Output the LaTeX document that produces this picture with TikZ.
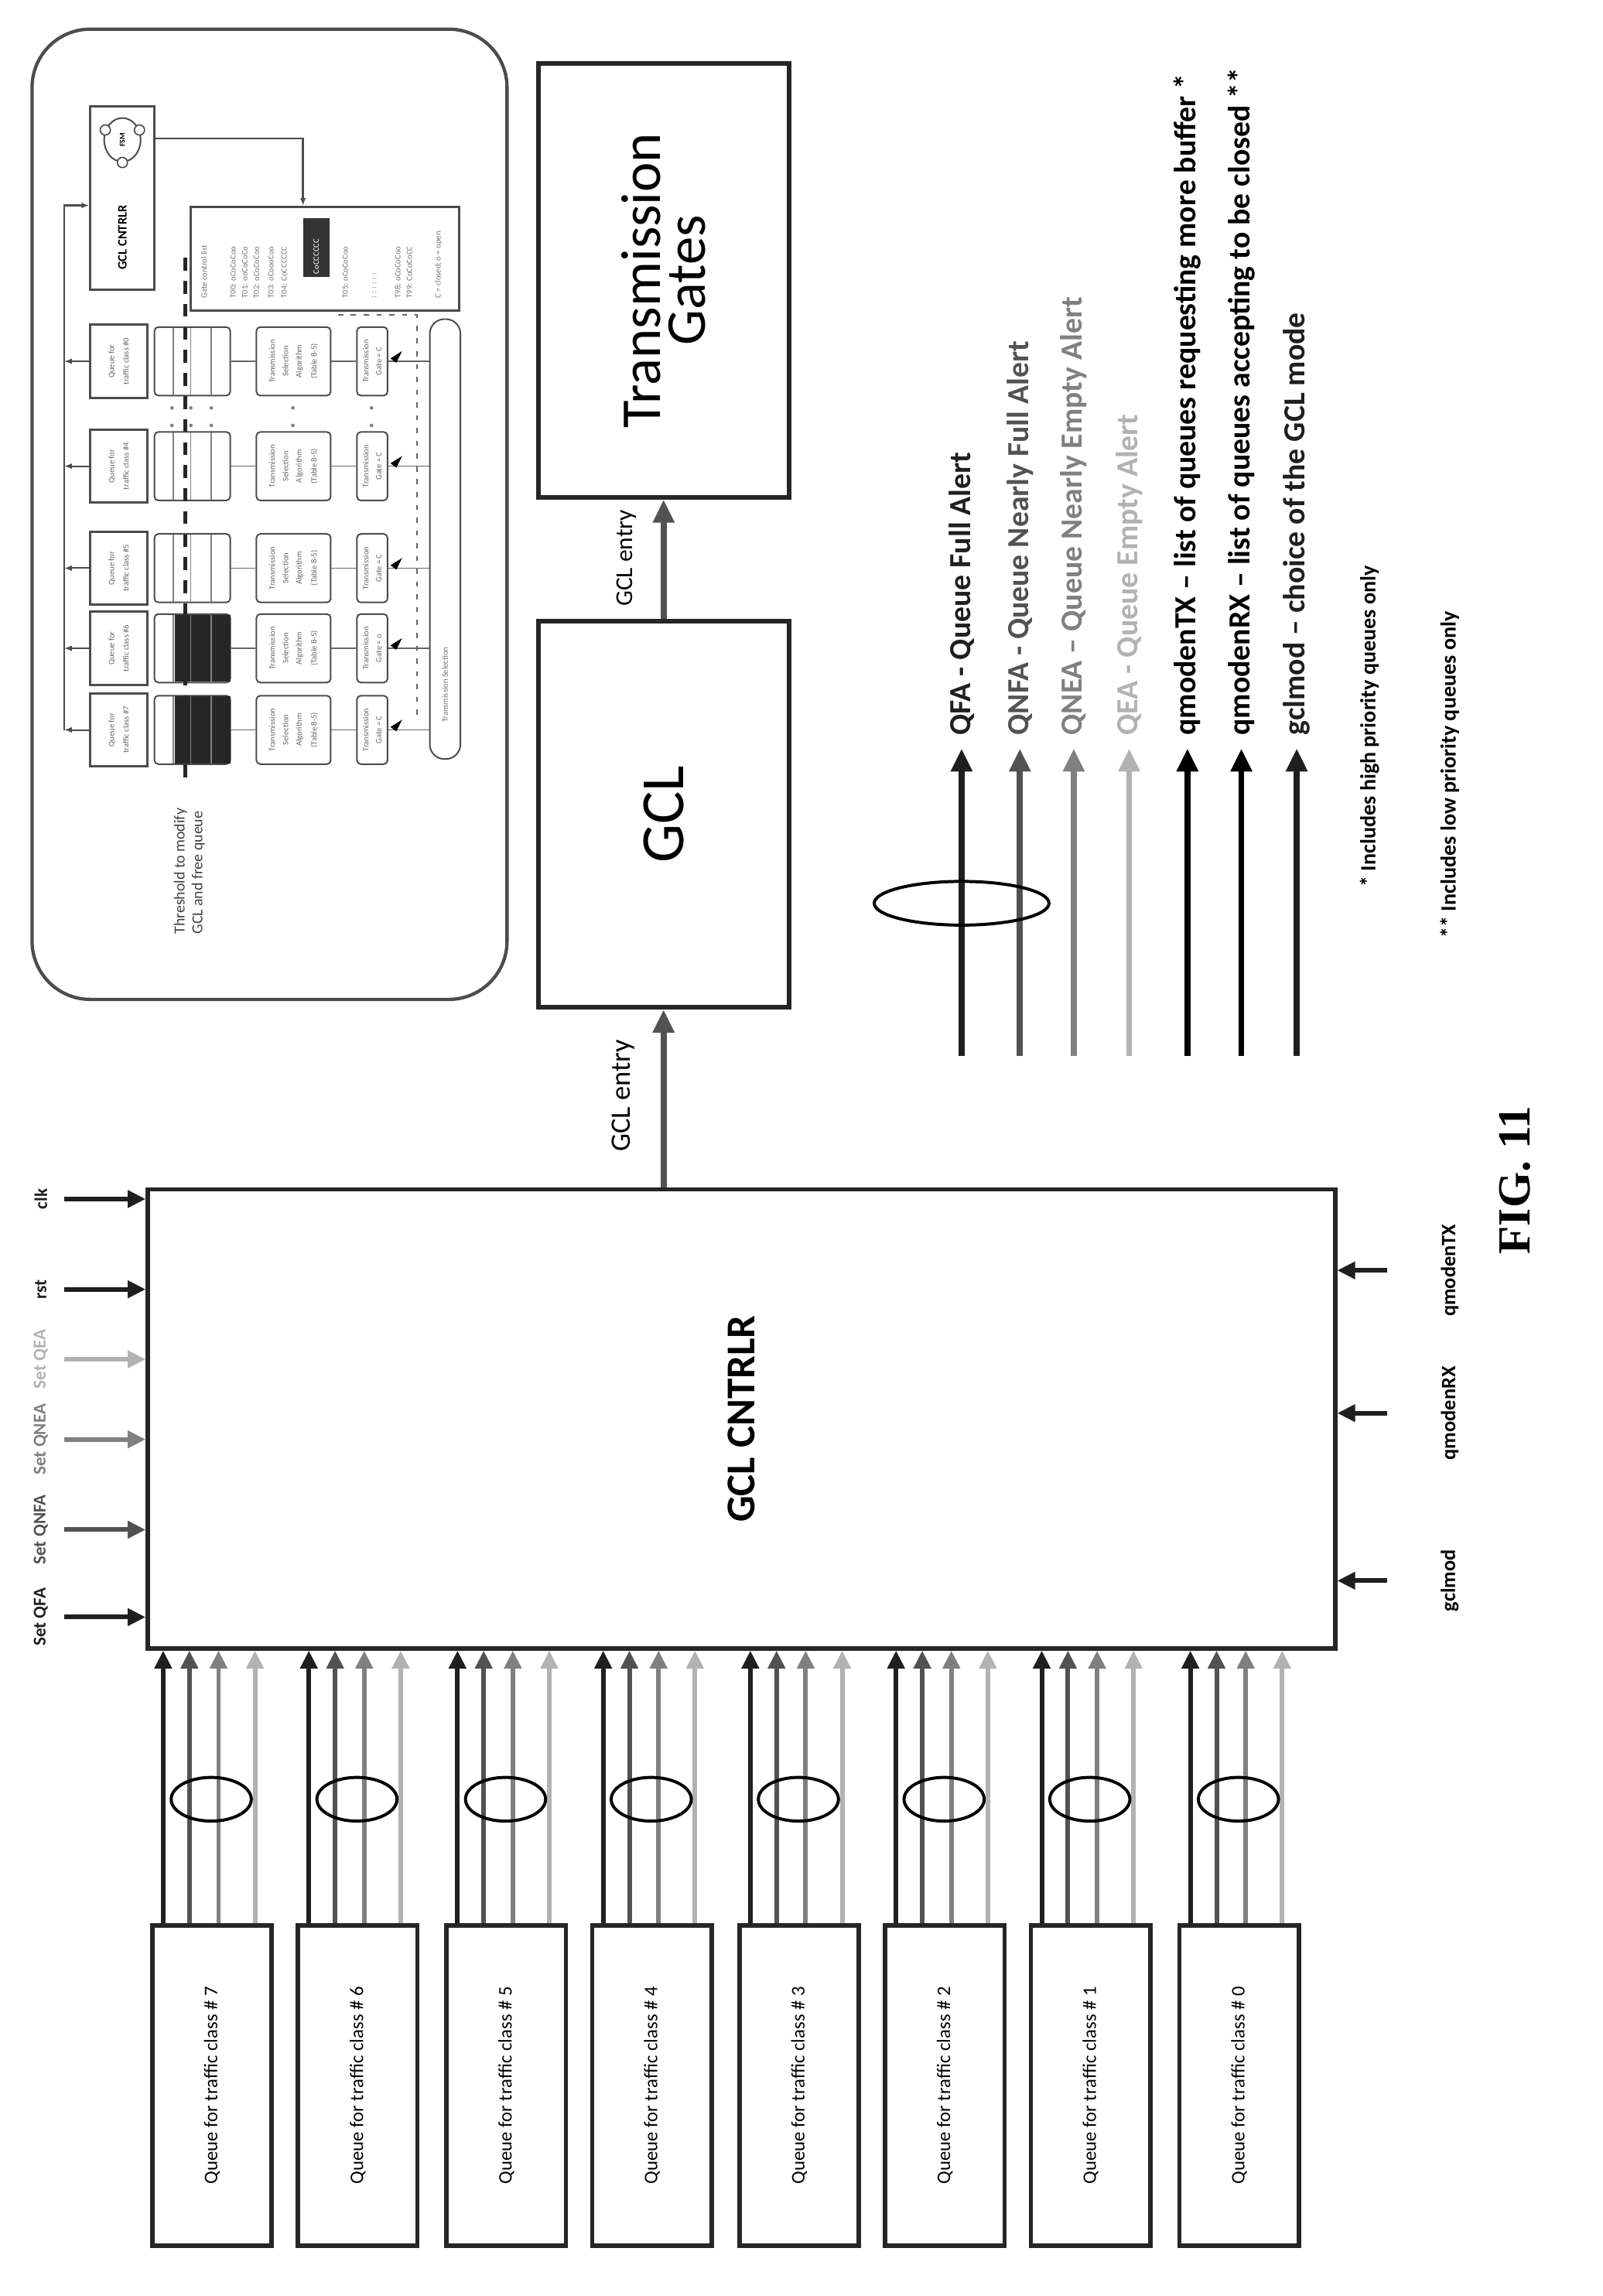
\documentclass[tikz,border=0pt]{standalone}
\usepackage{fontspec}
\setmainfont{Carlito}
\newfontfamily\figfont{Liberation Serif}
\usetikzlibrary{arrows.meta,shapes.geometric}
\definecolor{cA}{gray}{0.12}
\definecolor{cB}{gray}{0.32}
\definecolor{cC}{gray}{0.5}
\definecolor{cD}{gray}{0.7}
\newcommand\tinyt{\fontsize{3.2}{3.6}\selectfont\color{black!60}}
\tikzset{
  bigbox/.style={draw=black!85,line width=1.7pt,inner sep=0pt},
  arr/.style={-{Triangle[length=9pt,width=8pt]},line width=2.3pt},
  sarr/.style={-{Triangle[length=7pt,width=6.5pt]},line width=1.8pt},
  ell/.style={draw,ellipse,line width=1.2pt,inner sep=0pt},
  ibox/.style={draw=black!70,line width=0.6pt,inner sep=0pt},
  tx/.style={font=\fontsize{3.2}{3.6}\selectfont,text=black!55},
  lab/.style={rotate=90,font=\bfseries\fontsize{7}{8}\selectfont},
  leg/.style={rotate=90,anchor=west,font=\bfseries\fontsize{12}{14}\selectfont,inner sep=0pt},
}
\begin{document}
\begin{tikzpicture}[x=0.02cm,y=-0.02cm]
\useasboundingbox (0,0) rectangle (1100,1576);

% ---------------- inset ----------------
\draw[line width=1.3pt,draw=black!70,rounded corners=0.8cm] (22,20) rectangle (348,686);
\node[ibox,line width=0.9pt,minimum width=0.88cm,minimum height=2.52cm] (sbox) at (84,136) {};
\node[ellipse,draw=black!70,line width=0.6pt,minimum width=0.5cm,minimum height=0.6cm,inner sep=0pt] (fsm) at (84,96) {\rotatebox{90}{\fontsize{3}{3}\selectfont\bfseries FSM}};
\foreach \a in {30,150,270}{\draw[fill=white,draw=black!70,line width=0.5pt] (fsm.\a) circle (0.07cm);}
\node[rotate=90,font=\bfseries\fontsize{5}{5}\selectfont] (sboxt) at (84,163) {GCL CNTRLR};
\node[ibox,line width=0.9pt,minimum width=3.68cm,minimum height=1.42cm] (glist) at (223,177.5) {};
\coordinate (sconn) at (208,95);
\draw[black!70,line width=0.8pt,-{Latex[length=3pt]}] (sbox.east |- sconn) -- (sconn) -- (sconn |- glist.north);
\fill[black!80] (208,150) rectangle (226,190);
\foreach \x/\t in {140/Gate control list,160/T00: oCoCoCoo,168/T01: ooCoCoCo,176/T02: oCoCoCoo,186/T03: oCoooCoo,195/T04: CoCCCCCC,237/T05: oCoCoCoo,257/: : : : : :,273/T98: oCoCoCoo,281/T99: CoCoCoCC,301/C = closed; o = open}
  \node[tx,rotate=90,anchor=west,inner sep=0pt] at (\x,205) {\t};
\node[tx,rotate=90,anchor=west,inner sep=0pt,text=white] at (217,200) {T04: CoCCCCCC};
\node[ibox,rounded corners=0.2cm,minimum width=0.42cm,minimum height=6.04cm] (pill) at (305.5,370) {};
\node[tx,rotate=90] at (305.5,470) {Transmission Selection};
\draw[black!60,line width=0.6pt,dash pattern=on 2pt off 3pt] (232,216) -- (286,216) -- (286,495);
\foreach \yc/\lab/\dk/\g in {248/0/0/C,320/4/0/C,390/5/0/C,445/6/1/o,501/7/1/C}{
  \node[ibox,line width=0.9pt,minimum width=0.78cm,minimum height=1cm] (iq\lab) at (81.5,\yc) {\rotatebox{90}{\shortstack{\tinyt Queue for\\\tinyt traffic class \#\lab}}};
  \node[ibox,rounded corners=1.5pt,minimum width=1.04cm,minimum height=0.94cm] (ib\lab) at (132,\yc) {};
  \ifnum\dk=1 \fill[black!85] (120,\yc-23) rectangle (158,\yc+23); \fi
  \foreach \xx in {119,131,145}{\draw[black!50,line width=0.4pt] (\xx,\yc-23) -- (\xx,\yc+23);}
  \node[ibox,rounded corners=1.5pt,minimum width=1.02cm,minimum height=0.94cm] (it\lab) at (201.5,\yc) {\rotatebox{90}{\shortstack{\tinyt Transmission\\\tinyt Selection\\\tinyt Algorithm\\\tinyt (Table 8-5)}}};
  \node[ibox,rounded corners=1.5pt,minimum width=0.42cm,minimum height=0.94cm] (ig\lab) at (255.5,\yc) {\rotatebox{90}{\shortstack{\tinyt Transmission\\\tinyt Gate = \g}}};
  \draw[black!60,line width=0.5pt] (ib\lab.east) -- (it\lab.west);
  \draw[black!60,line width=0.5pt] (it\lab.east) -- (ig\lab.west);
  \draw[black!60,line width=0.5pt] (ig\lab.east) -- (ig\lab.east -| pill.west);
  \fill[black] (268,\yc-2) -- (276,\yc-7) -- (272,\yc+1) -- cycle;
}
\foreach \xx in {118,131,145,201,255}{\fill[black!50] (\xx,280) circle (0.025cm); \fill[black!50] (\xx,292) circle (0.025cm);}
\coordinate (fbtop) at (44,141);
\coordinate (fbbot) at (44,501);
\draw[black!70,line width=0.8pt,-{Latex[length=3pt]}] (fbbot) -- (fbtop) -- (fbtop -| sbox.west);
\foreach \lab in {0,4,5,6,7}{\draw[black!70,line width=0.6pt,-{Latex[length=3pt]}] (iq\lab.west) -- (iq\lab.west -| fbtop);}
\draw[black!85,line width=1.6pt,dash pattern=on 5pt off 4pt] (127,177) -- (127,537);
\node[rotate=90,font=\fontsize{6}{7}\selectfont,text=black!75,align=left] (thr) at (130,598) {Threshold to modify\\GCL and free queue};

% ---------------- main blocks ----------------
\node[bigbox,anchor=north west,minimum width=3.44cm,minimum height=5.96cm] (tg) at (368,42) {\rotatebox{90}{\shortstack{\fontsize{22}{26}\selectfont Transmission\\\fontsize{22}{26}\selectfont Gates}}};
\node[bigbox,anchor=north west,minimum width=3.44cm,minimum height=5.3cm] (gcl) at (368,425) {\rotatebox{90}{\fontsize{24}{26}\selectfont GCL}};
\node[bigbox,anchor=north west,minimum width=16.3cm,minimum height=6.3cm] (ctl) at (100,815) {\rotatebox{90}{\bfseries\fontsize{16}{18}\selectfont GCL CNTRLR}};
\draw[arr,cB] (gcl.south |- ctl.north) -- (gcl.south);
\draw[arr,cB] (gcl.north) -- (tg.south);
\node[rotate=90,font=\fontsize{11}{13}\selectfont] at (428,752) {GCL entry};
\node[rotate=90,font=\fontsize{9.5}{11}\selectfont] at (430,383) {GCL entry};

% queues
\foreach \n/\x in {7/103,6/203,5/305,4/405,3/506,2/606,1/706,0/808}{
  \node[bigbox,anchor=north west,minimum width=1.64cm,minimum height=4.4cm] (q\n) at (\x,1320) {\rotatebox{90}{\fontsize{7.5}{9}\selectfont Queue for traffic class \# \n}};
  \foreach \dx/\c in {9/cA,27/cB,47/cC,72/cD}{
    \draw[sarr,\c] ([xshift=\dx*0.02cm]q\n.north west) -- ([xshift=\dx*0.02cm]q\n.north west |- ctl.south);
  }
  \node[ell,minimum width=1.1cm,minimum height=0.6cm] at ([xshift=0.84cm,yshift=1.7cm]q\n.north west) {};
}

% left inputs
\foreach \i/\y/\c/\t in {1/1110/cA/Set QFA,2/1050/cB/Set QNFA,3/988/cC/Set QNEA,4/933/cD/Set QEA,5/885/cA/rst,6/823/cA/clk}{
  \coordinate (in\i) at (44,\y);
  \draw[sarr,\c] (in\i) -- (in\i -| ctl.west);
  \node[lab,text=\c] at (28,\y) {\t};
}
% right inputs
\foreach \i/\y/\t in {1/1085/gclmod,2/970/qmodenRX,3/872/qmodenTX}{
  \coordinate (rin\i) at (952,\y);
  \draw[sarr,cA] (rin\i) -- (rin\i -| ctl.east);
  \node[lab,font=\bfseries\fontsize{8}{9}\selectfont] at (995,\y) {\t};
}

% legend
\foreach \i/\x/\c/\t in {1/660/cA/QFA - Queue Full Alert,2/700/cB/QNFA - Queue Nearly Full Alert,3/737/cC/QNEA -- Queue Nearly Empty Alert,4/775/cD/QEA - Queue Empty Alert,5/815/black/qmodenTX -- list of queues requesting more buffer *,6/852/black/qmodenRX -- list of queues accepting to be closed **,7/890/cA/gclmod -- choice of the GCL mode}{
  \coordinate (lg\i) at (\x,725);
  \node[leg,text=\c] (lt\i) at (\x,505) {\t};
  \draw[arr,\c,shorten >=5pt] (lg\i) -- (lg\i |- lt\i.west);
}
\node[ell,minimum width=2.4cm,minimum height=0.6cm] at (660,620) {};
\node[rotate=90,anchor=west,font=\bfseries\fontsize{8.5}{10}\selectfont] at (940,615) {* Includes high priority queues only};
\node[rotate=90,anchor=west,font=\bfseries\fontsize{8.5}{10}\selectfont] at (995,650) {** Includes low priority queues only};
\node[rotate=90,font=\figfont\bfseries\fontsize{18}{20}\selectfont] at (1040,810) {FIG. 11};
\end{tikzpicture}
\end{document}
